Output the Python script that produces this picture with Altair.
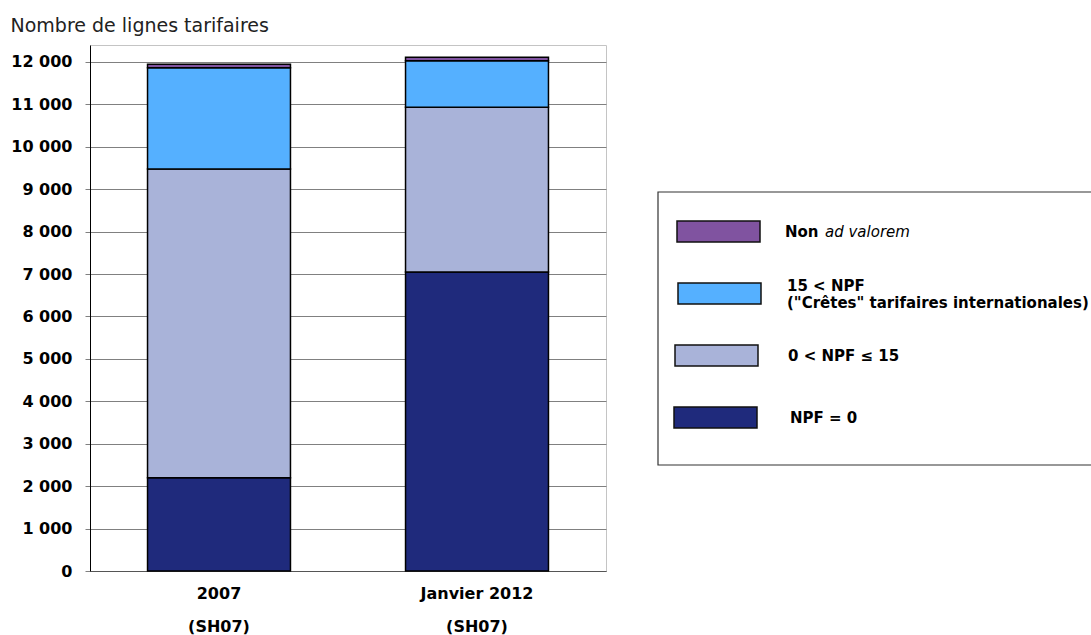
import altair as alt
import pandas as pd

# Tariff lines by MFN duty band, two reference dates
periods = ["2007\n(SH07)", "Janvier 2012\n(SH07)"]
series = ["NPF = 0", "0 < NPF ≤ 15", "15 < NPF", "Non ad valorem"]
npf_zero = [2200, 7050]
npf_0_15 = [7275, 3880]
npf_over_15 = [2390, 1100]
non_ad_valorem = [80, 80]
colors = ["#1F2A7C", "#A9B3D9", "#55B0FF", "#8053A0"]
y_ticks = list(range(0, 12001, 1000))

rows = []
for i, p in enumerate(periods):
    for k, (s, vals) in enumerate(zip(series, [npf_zero, npf_0_15, npf_over_15, non_ad_valorem])):
        rows.append({"periode": p, "serie": s, "lignes": vals[i], "rang": k})
df = pd.DataFrame(rows)

W, H = 516, 526

bars = alt.Chart(df).mark_bar(stroke="black", strokeWidth=1.5).encode(
    x=alt.X(
        "periode:N",
        sort=periods,
        scale=alt.Scale(paddingInner=0.446, paddingOuter=0.223),
        axis=alt.Axis(
            title=None,
            labelAngle=0,
            ticks=False,
            labelExpr="split(datum.label, '\\n')",
            labelFont="DejaVu Sans",
            labelFontSize=16,
            labelFontWeight="bold",
            labelColor="black",
            labelLineHeight=33,
            labelBaseline="top",
            labelPadding=14,
            domainColor="#555555",
            grid=False,
        ),
    ),
    y=alt.Y(
        "lignes:Q",
        stack="zero",
        scale=alt.Scale(domain=[0, 12400], nice=False),
        axis=alt.Axis(
            values=y_ticks,
            labelExpr="replace(format(datum.value, ','), ',', ' ')",
            title="Nombre de lignes tarifaires",
            titleAngle=0,
            titleAlign="left",
            titleBaseline="alphabetic",
            titleX=-80,
            titleY=-14,
            titleFont="DejaVu Sans",
            titleFontSize=19,
            titleFontWeight="normal",
            titleColor="#222222",
            labelFont="DejaVu Sans",
            labelFontSize=16,
            labelFontWeight="bold",
            labelColor="black",
            labelPadding=13,
            tickSize=5,
            tickColor="#808080",
            domainColor="black",
            gridColor="#808080",
            gridWidth=1,
        ),
    ),
    color=alt.Color("serie:N", scale=alt.Scale(domain=series, range=colors), legend=None),
    order=alt.Order("rang:Q"),
)

# Legend panel drawn as plain marks, offsets are relative to the plot origin
ox, oy = 90, 45
box = alt.Chart(pd.DataFrame({"k": [0]})).mark_rect(
    fill="white", stroke="#333333", strokeWidth=1.2
).encode(
    x=alt.value(658 - ox), x2=alt.value(1100 - ox),
    y=alt.value(192 - oy), y2=alt.value(465 - oy),
)

layers = [bars, box]
legend_order = ["Non ad valorem", "15 < NPF", "0 < NPF ≤ 15", "NPF = 0"]
swatch_x = [677, 678, 675, 674]
text_x = [785, 787, 788, 790]
FS = 15
for i, name in enumerate(legend_order):
    top = 221 + i * 62
    col = colors[series.index(name)]
    sw = alt.Chart(pd.DataFrame({"serie": [name]})).mark_rect(
        fill=col, stroke="#111111", strokeWidth=1.5
    ).encode(
        x=alt.value(swatch_x[i] - ox), x2=alt.value(swatch_x[i] + 83 - ox),
        y=alt.value(top - oy), y2=alt.value(top + 21 - oy),
    )
    layers.append(sw)
    cy = top + 11 - oy
    tx = text_x[i] - ox
    if name == "Non ad valorem":
        layers.append(alt.Chart(pd.DataFrame({"t": ["Non"]})).mark_text(
            align="left", baseline="middle", font="DejaVu Sans", fontSize=FS,
            fontWeight="bold", color="black"
        ).encode(x=alt.value(tx), y=alt.value(cy), text="t:N"))
        layers.append(alt.Chart(pd.DataFrame({"t": ["ad valorem"]})).mark_text(
            align="left", baseline="middle", font="DejaVu Sans", fontSize=FS,
            fontStyle="italic", color="black"
        ).encode(x=alt.value(tx + 40), y=alt.value(cy), text="t:N"))
    elif name == "15 < NPF":
        layers.append(alt.Chart(pd.DataFrame({"t": [name]})).mark_text(
            align="left", baseline="middle", font="DejaVu Sans", fontSize=FS,
            fontWeight="bold", color="black",
            text=[name, '\u00a0("Crêtes" tarifaires internationales)'], lineHeight=17,
        ).encode(x=alt.value(tx), y=alt.value(cy - 8)))
    else:
        layers.append(alt.Chart(pd.DataFrame({"t": [name]})).mark_text(
            align="left", baseline="middle", font="DejaVu Sans", fontSize=FS,
            fontWeight="bold", color="black"
        ).encode(x=alt.value(tx), y=alt.value(cy), text="t:N"))

chart = alt.layer(*layers).properties(
    width=W, height=H,
    autosize=alt.AutoSizeParams(type="none"),
    padding={"left": ox, "top": oy, "right": 1091 - ox - W, "bottom": 635 - oy - H},
    background="white",
).configure_view(stroke="#c4c4c4", strokeWidth=1)

chart.save("out.html", embed_options={"renderer": "svg", "actions": False})
